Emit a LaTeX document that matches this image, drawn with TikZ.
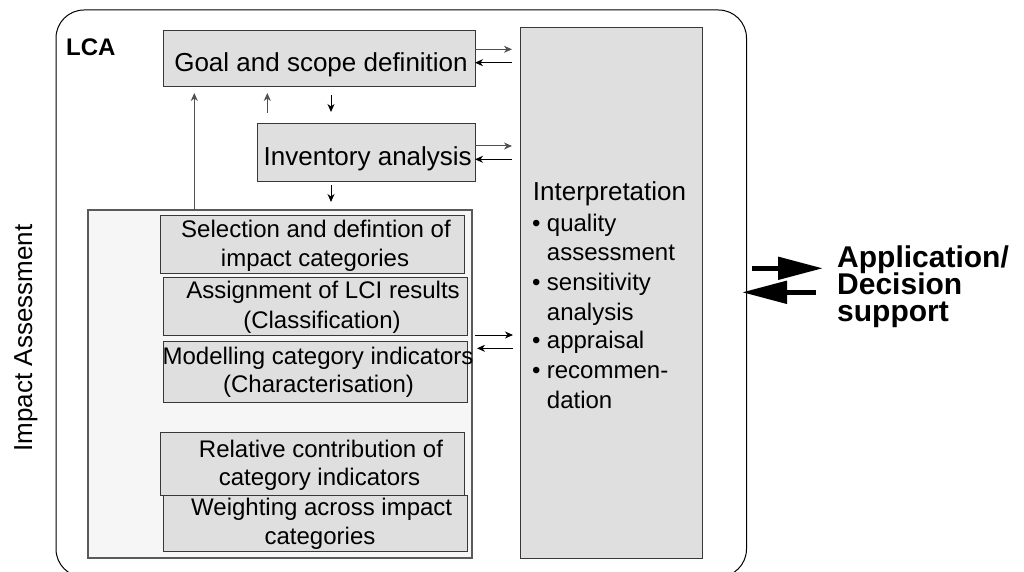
\documentclass[tikz,border=0pt]{standalone}
\usepackage{fontspec}
\setmainfont{Liberation Sans}
\usetikzlibrary{arrows.meta}
\definecolor{boxfill}{HTML}{DFDFDF}
\definecolor{panelfill}{HTML}{F6F6F6}
\definecolor{boxline}{HTML}{383838}
\definecolor{paneline}{HTML}{5A5A5A}
\definecolor{arrgray}{HTML}{505050}
\begin{document}
\begin{tikzpicture}[x=1pt,y=-1pt,
  box/.style={draw=boxline, fill=boxfill, line width=1pt, inner sep=0pt, outer sep=0pt, anchor=north west},
  panel/.style={draw=paneline, fill=panelfill, line width=1.2pt, inner sep=0pt, outer sep=0pt, anchor=north west},
  frame/.style={draw=black, line width=1pt, rounded corners=28pt, inner sep=0pt, outer sep=0pt, anchor=north west},
  ttl/.style={anchor=base, inner sep=0pt, font=\fontsize{26}{26}\selectfont},
  txt/.style={anchor=base, inner sep=0pt, font=\fontsize{24}{24}\selectfont},
  itm/.style={anchor=base west, inner sep=0pt, font=\fontsize{24}{24}\selectfont},
  appl/.style={anchor=base west, inner sep=0pt, font=\fontsize{30}{30}\selectfont\bfseries},
  arr/.style={-{Stealth[length=8pt,width=7pt,inset=2.5pt]}, line width=1pt, draw=arrgray},
  bigarr/.style={-{Triangle[length=45pt,width=22pt]}, line width=5pt, draw=black}
]
\useasboundingbox (0,0) rectangle (1024,572);
\clip (0,0) rectangle (1024,572);

% outer LCA frame
\node[frame, minimum width=690.5pt, minimum height=567pt] (lca) at (56,10) {};
\node[anchor=base west, inner sep=0pt, font=\fontsize{24}{24}\selectfont\bfseries] (lcat) at (66,55.5) {LCA};

% main boxes
\node[box, minimum width=312pt, minimum height=56pt] (goal) at (163,31) {};
\node[box, minimum width=218pt, minimum height=57pt] (inv) at (257,124) {};
\node[box, minimum width=182pt, minimum height=530pt] (interp) at (520,28) {};
\node[panel, minimum width=384pt, minimum height=348pt] (ia) at (88,210) {};

% impact assessment sub-boxes
\node[box, minimum width=304pt, minimum height=58pt] (sel) at (160,215) {};
\node[box, minimum width=304pt, minimum height=58pt] (asg) at (163,277) {};
\node[box, minimum width=304pt, minimum height=61pt] (mod) at (163,341) {};
\node[box, minimum width=304pt, minimum height=56pt] (wei) at (163,495) {};
\node[box, minimum width=304pt, minimum height=63pt] (rel) at (160,432) {};

% texts
\node[ttl] (goalt) at (321,71.7) {Goal and scope definition};
\node[ttl] (invt) at (367.7,165) {Inventory analysis};
\node[txt] (sel1) at (316,237) {Selection and defintion of};
\node[txt] (sel2) at (315,266) {impact categories};
\node[txt] (asg1) at (323,298.3) {Assignment of LCI results};
\node[txt] (asg2) at (322,328.3) {(Classification)};
\node[txt] (mod1) at (318,364.3) {Modelling category indicators};
\node[txt] (mod2) at (318.5,392.3) {(Characterisation)};
\node[txt] (rel1) at (321,457.3) {Relative contribution of};
\node[txt] (rel2) at (319.5,485) {category indicators};
\node[txt] (wei1) at (321.7,515) {Weighting across impact};
\node[txt] (wei2) at (320,544) {categories};

% interpretation
\node[anchor=base west, inner sep=0pt, font=\fontsize{26}{26}\selectfont] (intt) at (532.7,200.7) {Interpretation};
\node[itm] (b1) at (532,231.7) {•};
\node[itm] (i1) at (546.7,231.7) {quality};
\node[itm] (i1b) at (546.7,260.7) {assessment};
\node[itm] (b2) at (532,290) {•};
\node[itm] (i2) at (546.7,290) {sensitivity};
\node[itm] (i2b) at (546.7,320) {analysis};
\node[itm] (b3) at (532,348.3) {•};
\node[itm] (i3) at (546.7,348.3) {appraisal};
\node[itm] (b4) at (532,378.3) {•};
\node[itm] (i4) at (546.7,378.3) {recommen-};
\node[itm] (i4b) at (546.7,408.3) {dation};

% impact assessment side label
\node[rotate=90, anchor=base, inner sep=0pt, font=\fontsize{26}{26}\selectfont] (iat) at (32,338) {Impact Assessment};

% application / decision support
\node[appl] (app1) at (837,267) {Application/};
\node[appl] (app2) at (837,294) {Decision};
\node[appl] (app3) at (837,321) {support};

% small connectors
\draw[arr] (goal.east |- 0,49.3) -- ([xshift=-8pt]interp.west |- 0,49.3);
\draw[arr, draw=black] ([xshift=-8pt]interp.west |- 0,62.7) -- (goal.east |- 0,62.7);
\draw[arr] (inv.east |- 0,146) -- ([xshift=-8pt]interp.west |- 0,146);
\draw[arr, draw=black] ([xshift=-8pt]interp.west |- 0,159.3) -- (inv.east |- 0,159.3);
\draw[arr, draw=black] ([xshift=3pt]ia.east |- 0,335) -- ([xshift=-7pt]interp.west |- 0,335);
\draw[arr, draw=black] ([xshift=-7pt]interp.west |- 0,348.3) -- ([xshift=5pt]ia.east |- 0,348.3);

\draw[arr] (ia.north -| 194.3,0) -- ([yshift=-6pt]goal.south -| 194.3,0);
\draw[arr] ([yshift=11pt]inv.north -| 267.3,0) -- ([yshift=-6pt]goal.south -| 267.3,0);
\draw[arr, draw=black] ([yshift=-8pt]goal.south -| 331,0) -- ([yshift=12pt]inv.north -| 331,0);
\draw[arr, draw=black] ([yshift=-4pt]inv.south -| 331,0) -- ([yshift=8pt]ia.north -| 331,0);

% big arrows
\coordinate (bA) at (752,268.3);
\coordinate (bB) at (823,268.3);
\coordinate (bC) at (816,292.3);
\coordinate (bD) at (742,292.3);
\draw[bigarr] (bA) -- (bB);
\draw[bigarr] (bC) -- (bD);
\end{tikzpicture}
\end{document}
